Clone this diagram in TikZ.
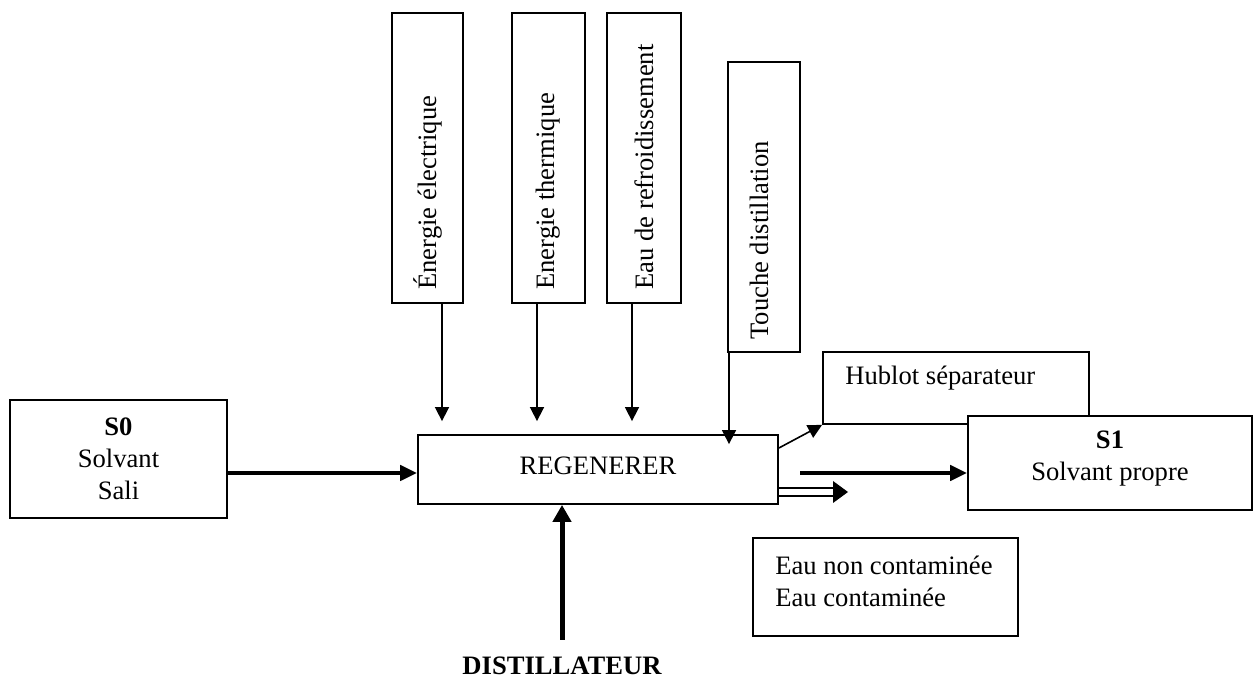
\documentclass[tikz,border=0pt]{standalone}
\usepackage{fontspec}
\setmainfont{Liberation Serif}
\usetikzlibrary{arrows.meta}
\begin{document}
\begin{tikzpicture}[x=0.5pt,y=-0.5pt,
  box/.style={draw, line width=0.9pt, inner sep=0pt, rectangle, fill=white},
  txt/.style={font=\fontsize{13.3}{16}\selectfont, inner sep=0pt},
  thinarrow/.style={line width=0.8pt, -{Triangle[length=7pt,width=7pt]}},
  thickarrow/.style={line width=2.2pt, -{Triangle[length=8.5pt,width=7.5pt]}},
]
\useasboundingbox (0,0) rectangle (1254,678);

% boxes
\node[box, minimum width=108.5pt, minimum height=59pt] (S0) at (118.5,459) {};
\node[box, minimum width=180pt, minimum height=34.5pt] (R) at (598,469.5) {};
\node[box, minimum width=35.5pt, minimum height=145pt] (E1) at (427.5,158) {};
\node[box, minimum width=36.5pt, minimum height=145pt] (E2) at (548.5,158) {};
\node[box, minimum width=37pt, minimum height=145pt] (E3) at (644,158) {};
\node[box, minimum width=36pt, minimum height=145pt] (T) at (764,207) {};
\node[box, minimum width=133pt, minimum height=36pt] (H) at (956,388) {};
\node[box, minimum width=142pt, minimum height=47pt] (S1) at (1110,463) {};
\node[box, minimum width=132.5pt, minimum height=49pt] (W) at (885.5,587) {};

% texts
\node[txt, align=center] (S0t) at (118.5,459) {\textbf{S0}\\Solvant\\Sali};
\node[txt] (Rt) at (598,466) {REGENERER};
\node[txt, rotate=90, anchor=west] (E1t) at (428,290) {Énergie électrique};
\node[txt, rotate=90, anchor=west] (E2t) at (548,290) {Energie thermique};
\node[txt, rotate=90, anchor=west] (E3t) at (644,290) {Eau de refroidissement};
\node[txt, rotate=90, anchor=west] (Tt) at (759,340) {Touche distillation};
\node[txt, anchor=west] (Ht) at (845,378) {Hublot séparateur};
\node[txt, align=left, anchor=west] (Wt) at (775,581) {Eau non contaminée\\Eau contaminée};
\node[txt, align=center] (S1t) at (1110,459) {\textbf{S1}\\Solvant propre};
\node[txt, font=\fontsize{13.3}{16}\selectfont\bfseries] (D) at (562,666) {DISTILLATEUR};

% connectors
\draw[thinarrow, shorten >=6.5pt] (442,0 |- E1.south) -- (442,0 |- R.north);
\draw[thinarrow, shorten >=6.5pt] (537,0 |- E2.south) -- (537,0 |- R.north);
\draw[thinarrow, shorten >=6.5pt] (632,0 |- E3.south) -- (632,0 |- R.north);
\draw[thinarrow, shorten >=-5pt] (729,0 |- T.south) -- (729,0 |- R.north);
\draw[thinarrow] (R.east |- 0,448) -- (H.south west);
\draw[thickarrow] (S0.east |- 0,473) -- (R.west |- 0,473);
\coordinate (s1start) at (800,473);
\draw[thickarrow] (s1start) -- (S1.west |- 0,473);
\coordinate (dbot) at (562,640);
\draw[line width=2.5pt, -{Triangle[length=8.5pt,width=9pt]}] (dbot) -- (dbot |- R.south);
% double output arrow
\coordinate (da) at (836,488);
\coordinate (db) at (836,496);
\coordinate (dtip) at (848,492);
\draw[line width=1pt] (R.east |- da) -- (da);
\draw[line width=1pt] (R.east |- db) -- (db);
\fill (833,481) -- (dtip) -- (833,503) -- cycle;
\end{tikzpicture}
\end{document}
